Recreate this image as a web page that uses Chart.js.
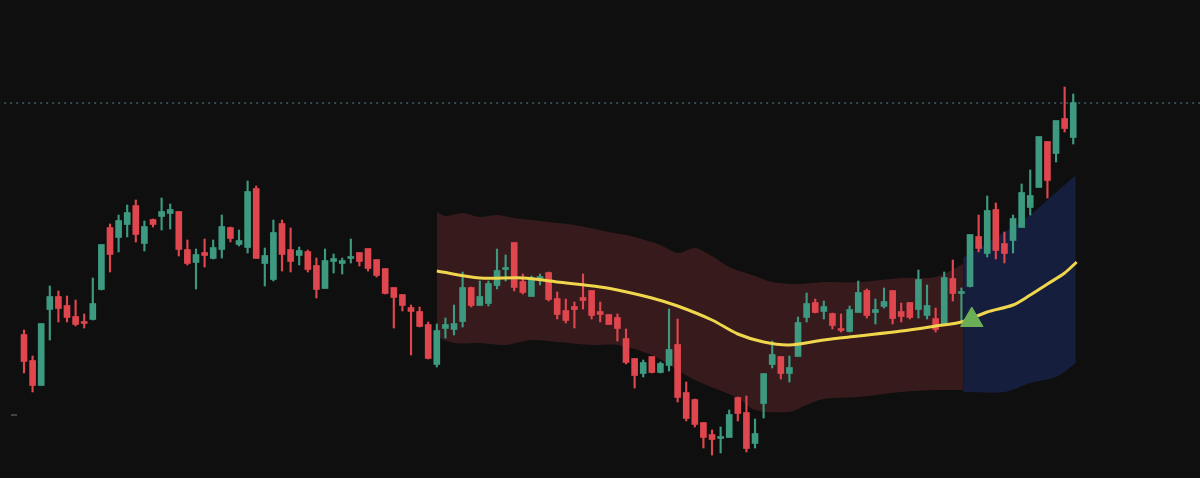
<!DOCTYPE html>
<html lang="en">
<head>
<meta charset="UTF-8">
<title>Candles</title>
<script src="https://cdn.jsdelivr.net/npm/chart.js"></script>
<style>
  html, body { margin: 0; padding: 0; background: #0f0f0f; }
  .wrap { width: 1200px; height: 478px; }
</style>
</head>
<body>
<div class="wrap"><canvas id="chart"></canvas></div>
<script>
// candles, index 1..123
const open  = [165,139,115,191,203,194,183,178,181,211,272,263,276,294,257,280,284,287,288,250,238,247,242,251,272,256,253,311,237,221,276,250,245,248,234,212,239,237,242,247,251,240,231,212,205,192,188,175,136,172,171,179,212,195,197,215,231,257,218,204,221,227,201,189,193,202,209,188,185,182,161,141,127,143,128,135,155,107,100,77,65,62,63,102,87,57,97,136,143,127,144,183,197,189,186,171,169,188,209,188,194,209,188,197,191,185,181,175,221,207,214,263,247,290,256,260,273,293,313,358,347,381,363];
const high  = [170,144,176,214,209,204,200,186,222,255,276,285,295,300,279,281,302,296,288,260,251,261,260,285,273,270,319,314,252,280,280,272,253,250,242,251,246,242,261,247,251,240,231,212,205,195,193,178,176,182,195,228,213,219,219,251,245,257,226,224,226,228,208,201,198,226,209,198,185,186,171,141,140,143,138,191,181,118,101,77,70,73,90,103,104,81,126,159,143,144,183,207,201,199,187,186,194,219,211,201,212,209,197,197,230,215,192,228,240,212,265,285,304,297,268,285,316,330,363,358,379,413,406];
const low   = [127,108,115,160,178,178,174,172,180,210,228,248,263,258,249,273,270,271,244,235,211,233,241,242,258,254,247,242,214,219,229,228,235,228,202,212,227,226,237,234,229,223,206,172,189,145,173,141,133,162,165,173,193,195,194,211,219,209,206,204,215,199,181,177,172,191,181,178,176,159,136,112,123,127,127,129,98,79,73,52,45,47,63,79,48,52,82,132,121,118,144,178,187,181,171,168,168,188,182,176,192,176,178,181,182,181,168,175,199,177,213,248,243,241,237,247,273,285,313,302,338,368,356];
const close = [139,115,176,203,192,183,176,177,196,255,246,279,287,266,273,276,288,290,251,237,245,245,252,273,262,259,308,242,244,267,246,239,249,231,211,239,241,239,243,239,232,225,207,203,195,189,174,142,169,175,176,212,195,203,216,229,232,213,208,222,223,201,186,180,191,200,185,186,176,172,138,125,137,128,136,150,103,82,76,63,61,63,85,87,52,66,126,145,127,132,177,196,188,193,175,170,190,207,185,190,198,182,184,183,220,194,171,222,207,208,265,252,289,250,247,281,307,304,363,320,379,372,397];

// moving average and envelope, sparse readings [candle index, value]
const maLine    = [[49,229],[54,222],[59,222],[63,218],[68,213],[70,210],[74,202],[77,194],[81,180],[84,166],[87,158],[90,155],[94,160],[98,164],[103,169],[107,174],[110,178],[113,188],[116,195],[118,205],[120,216],[122,227],[123.4,238]];
const redUpper  = [[49,288],[50,284],[52,287],[54,283],[56,285],[58,282],[62,278],[65,275],[69,268],[72,263],[75,255],[77,247],[79,252],[81,244],[83,233],[86,224],[88,218],[91,216],[94,218],[98,218],[103,222],[107,223],[110.2,236]];
const redLower  = [[49,163],[51,157],[54,157],[57,155],[60,160],[63,158],[67,155],[70,155],[74,145],[77,130],[79,120],[84,102],[86,90],[90,88],[92,95],[94,101],[98,103],[103,108],[107,110],[110.2,110]];
const blueUpper = [[110.2,242],[115,268],[118,285],[120,300],[123.3,325]];
const blueLower = [[110.2,108],[115,108],[118,117],[121,123],[123.3,137]];
const signal    = [[111.2,180]];
const refLevel  = 397;

const GREEN = '#3d9a80', RED = '#e0464e';
const idx = open.map((_, i) => i + 1);
const colors = idx.map((_, i) => close[i] >= open[i] ? GREEN : RED);
const pts = a => a.map(p => ({ x: p[0], y: p[1] }));

const bandLine = (data, fill, bg) => ({
  type: 'line', data: pts(data), borderWidth: 0, pointRadius: 0,
  tension: 0.3, fill: fill, backgroundColor: bg, order: 10
});

new Chart(document.getElementById('chart'), {
  type: 'bar',
  data: {
    datasets: [
      bandLine(redLower, false, 'transparent'),
      bandLine(redUpper, '-1', '#361a1c'),
      bandLine(blueLower, false, 'transparent'),
      bandLine(blueUpper, '-1', '#151e3c'),
      {
        type: 'line', data: [{ x: -2, y: refLevel }, { x: 140, y: refLevel }],
        borderColor: '#5f8a94', borderWidth: 1, borderDash: [2, 4], pointRadius: 0, order: 9
      },
      {
        data: idx.map((x, i) => ({ x, y: [low[i], high[i]] })),
        backgroundColor: colors, barThickness: 1.5, grouped: false, order: 5
      },
      {
        data: idx.map((x, i) => ({ x, y: [Math.min(open[i], close[i]) - 0.5, Math.max(open[i], close[i]) + 0.5] })),
        backgroundColor: colors, barThickness: 6, grouped: false, order: 4
      },
      {
        type: 'line', data: pts(maLine), borderColor: '#f0d64c', borderWidth: 3,
        pointRadius: 0, tension: 0.3, fill: false, order: 2
      },
      {
        type: 'scatter', data: pts(signal), pointStyle: 'triangle', pointRadius: 13,
        backgroundColor: '#6aaf55', borderColor: '#6aaf55', order: 1
      },
      {
        type: 'scatter', data: [{ x: -0.16, y: 85 }], pointStyle: 'line', pointRadius: 3,
        borderColor: '#777', borderWidth: 1, order: 1
      }
    ]
  },
  options: {
    responsive: true,
    maintainAspectRatio: false,
    animation: false,
    layout: { padding: 0, autoPadding: false },
    plugins: { legend: { display: false }, tooltip: { enabled: false } },
    scales: {
      x: { type: 'linear', min: -1.79, max: 137.74, offset: false, display: false },
      y: { min: 22, max: 500, display: false }
    }
  }
});
</script>
</body>
</html>
